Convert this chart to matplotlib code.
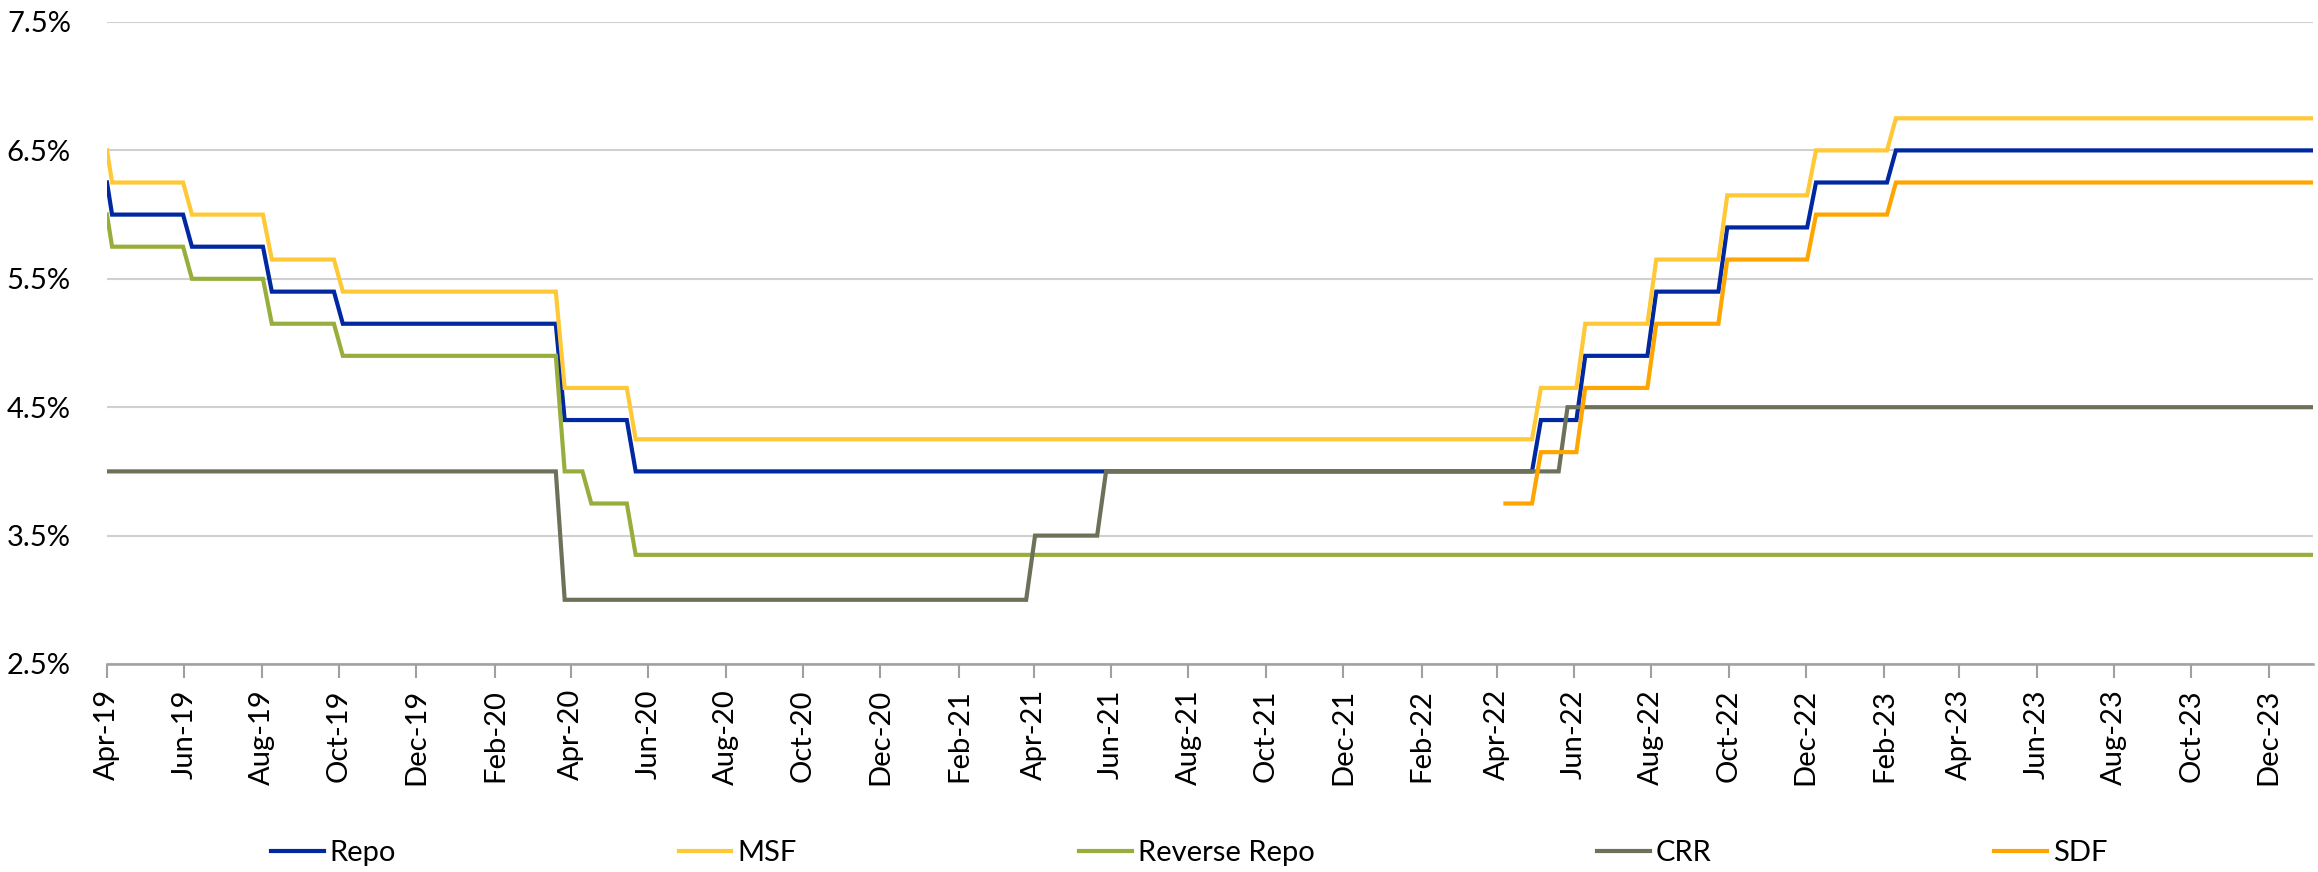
import numpy as np
import pandas as pd
import matplotlib
matplotlib.use("Agg")
import matplotlib.pyplot as plt
import matplotlib.dates as mdates
from matplotlib.ticker import FuncFormatter, FixedLocator

plt.rcParams['font.family'] = ['Lato', 'DejaVu Sans']

# Policy rate changes (effective date, rate in %)
repo_dates = ["2019-02-07", "2019-04-04", "2019-06-06", "2019-08-07", "2019-10-04",
              "2020-03-27", "2020-05-22", "2022-05-04", "2022-06-08", "2022-08-05",
              "2022-09-30", "2022-12-07", "2023-02-08"]
repo_rates = [6.25, 6.00, 5.75, 5.40, 5.15, 4.40, 4.00, 4.40, 4.90, 5.40, 5.90, 6.25, 6.50]

msf_dates = repo_dates
msf_rates = [6.50, 6.25, 6.00, 5.65, 5.40, 4.65, 4.25, 4.65, 5.15, 5.65, 6.15, 6.50, 6.75]

rrepo_dates = ["2019-02-07", "2019-04-04", "2019-06-06", "2019-08-07", "2019-10-04",
               "2020-03-27", "2020-04-17", "2020-05-22"]
rrepo_rates = [6.00, 5.75, 5.50, 5.15, 4.90, 4.00, 3.75, 3.35]

crr_dates = ["2019-01-01", "2020-03-27", "2021-03-27", "2021-05-22", "2022-05-21"]
crr_rates = [4.00, 3.00, 3.50, 4.00, 4.50]

sdf_dates = ["2022-04-08", "2022-05-04", "2022-06-08", "2022-08-05", "2022-09-30",
             "2022-12-07", "2023-02-08"]
sdf_rates = [3.75, 4.15, 4.65, 5.15, 5.65, 6.00, 6.25]

series_names = ["Repo", "MSF", "Reverse Repo", "CRR", "SDF"]
series_colors = ["#0028A0", "#FFC836", "#98AE3C", "#6C725A", "#FFA500"]

# Observation dates: start of the period, then weekly Fridays
weeks = pd.DatetimeIndex([pd.Timestamp("2019-04-01")]).append(
    pd.date_range("2019-04-05", "2024-01-05", freq="W-FRI"))


def weekly_values(dates, rates):
    d = pd.to_datetime(dates).values
    idx = np.searchsorted(d, weeks.values, side="right") - 1
    out = np.array(rates, dtype=float)[np.clip(idx, 0, None)]
    out[idx < 0] = np.nan
    return out


series = [
    weekly_values(repo_dates, repo_rates),
    weekly_values(msf_dates, msf_rates),
    weekly_values(rrepo_dates, rrepo_rates),
    weekly_values(crr_dates, crr_rates),
    weekly_values(sdf_dates, sdf_rates),
]

fig = plt.figure(figsize=(23.18, 8.72), dpi=100)
ax = fig.add_axes([107 / 2318, 1 - 664 / 872, (2313 - 107) / 2318, (664 - 22) / 872])

for vals, name, col in zip(series, series_names, series_colors):
    ax.plot(weeks, vals, color=col, lw=3.0, label=name, solid_joinstyle="miter")

ax.set_ylim(2.5, 7.5)
ax.set_yticks([2.5, 3.5, 4.5, 5.5, 6.5, 7.5])
ax.yaxis.set_major_formatter(FuncFormatter(lambda v, p: f"{v:.1f}%"))
ax.set_xlim(weeks[0], weeks[-1])

tick_dates = pd.date_range("2019-04-01", "2023-12-01", freq="2MS")
ax.xaxis.set_major_locator(FixedLocator(mdates.date2num(tick_dates)))
ax.xaxis.set_major_formatter(mdates.DateFormatter("%b-%y"))

ax.grid(axis="y", color="#D0D0D0", lw=1.5)
ax.set_axisbelow(True)
for s in ["left", "right", "top"]:
    ax.spines[s].set_visible(False)
ax.spines["bottom"].set_color("#A0A0A0")
ax.spines["bottom"].set_linewidth(1.8)

ax.tick_params(axis="y", length=0, pad=26, labelsize=21, labelcolor="#000000")
ax.tick_params(axis="x", length=10, width=1.5, color="#A0A0A0", direction="out",
               pad=8, labelsize=21, labelrotation=90)

fig.legend(loc="center", bbox_to_anchor=(0.513, 0.022), ncol=5, frameon=False,
           fontsize=21, handlelength=1.8, handletextpad=0.2, columnspacing=9.7)

fig.savefig("out.png", dpi=100)
